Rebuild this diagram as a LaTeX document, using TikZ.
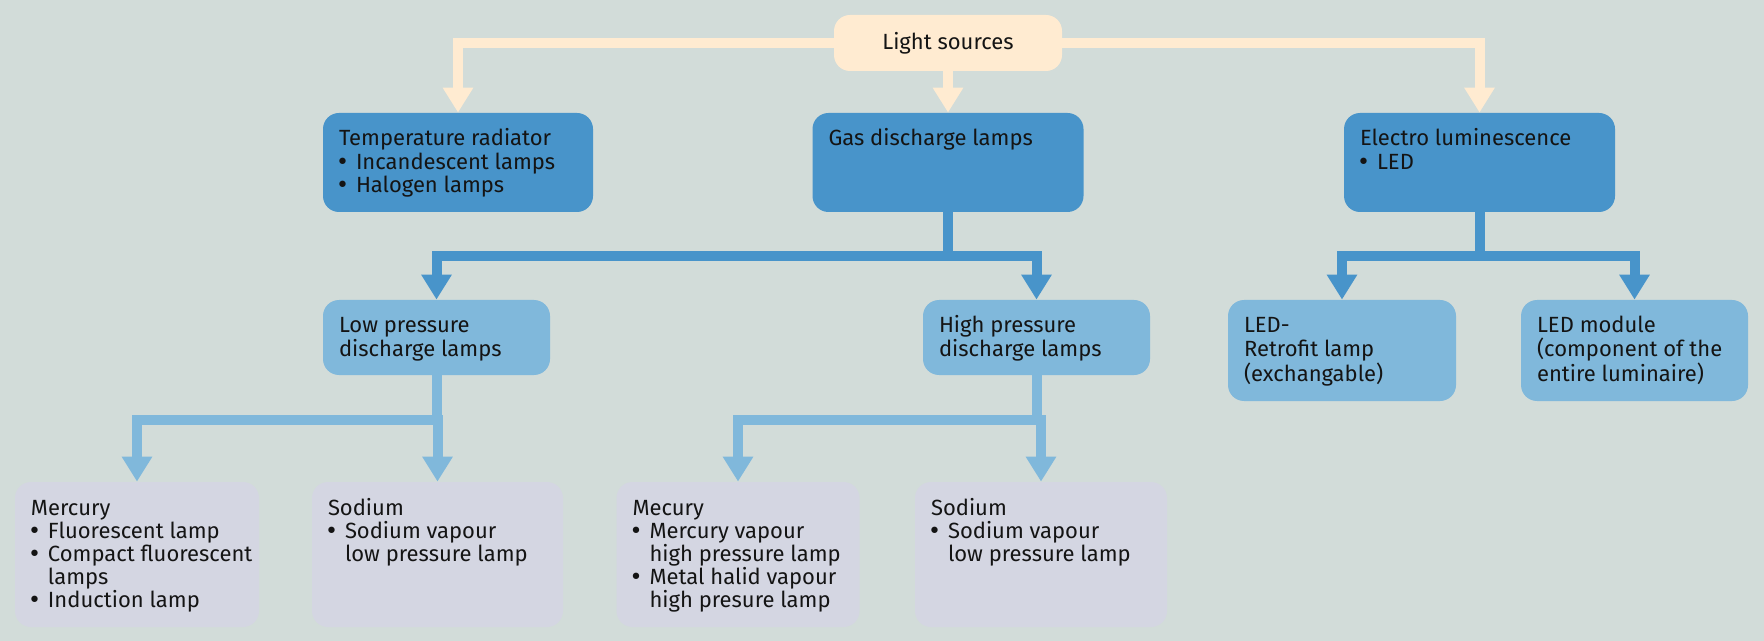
\documentclass[tikz,border=0pt]{standalone}
\usepackage{fontspec}
\setmainfont{Fira Sans}
\newfontfamily\bulletfont{DejaVu Sans}
\usetikzlibrary{arrows.meta}

\definecolor{bgcol}{HTML}{D2DCD9}
\definecolor{creamcol}{HTML}{FFEBD1}
\definecolor{darkcol}{HTML}{4894CA}
\definecolor{lightcol}{HTML}{80B8DB}
\definecolor{greycol}{HTML}{D4D6E2}
\definecolor{textcol}{HTML}{141414}

\newlength{\unitpx}
\setlength{\unitpx}{0.5pt}
\newcommand{\itm}{\makebox[17\unitpx][l]{\kern-1.5pt{\bulletfont\char"2022}}}
\newcommand{\ind}{\hspace*{17\unitpx}}
\newcommand{\boxtxt}[3]{%
  \begin{minipage}[t][#2\unitpx][t]{#1\unitpx}
    \raggedright\leftskip=16\unitpx \rightskip=-10pt plus 1fil
    \rule{0pt}{33\unitpx}#3
  \end{minipage}}

\tikzset{
  every node/.style={font=\fontsize{11}{11.6}\selectfont, text=textcol},
  srcbox/.style={fill=creamcol, rounded corners=8pt, inner sep=0pt,
    minimum width=228\unitpx, minimum height=56\unitpx},
  darkbox/.style={fill=darkcol, rounded corners=8pt, inner sep=0pt},
  lightbox/.style={fill=lightcol, rounded corners=8pt, inner sep=0pt},
  greybox/.style={fill=greycol, rounded corners=8pt, inner sep=0pt},
  tip/.style={-{Triangle[width=14.5pt,length=12.5pt]}},
  creamline/.style={draw=creamcol, line width=5pt, tip},
  darkline/.style={draw=darkcol, line width=5pt, tip},
  lightline/.style={draw=lightcol, line width=5pt, tip}
}

\begin{document}
\begin{tikzpicture}[x=0.5pt,y=-0.5pt]

    \fill[bgcol] (0,0) rectangle (1764,641);
    \useasboundingbox (0,0) rectangle (1764,641);

    % top
    \node[srcbox] (src) at (948,43) {Light sources};

    % first level
    \node[darkbox] (temp) at (458,162.5)
        {\boxtxt{270}{99}{Temperature radiator\\\itm Incandescent lamps\\\itm Halogen lamps}};
    \node[darkbox] (gas) at (948,162.5)
        {\boxtxt{271}{99}{Gas discharge lamps}};
    \node[darkbox] (elec) at (1479.5,162.5)
        {\boxtxt{271}{99}{Electro luminescence\\\itm LED}};

    % second level
    \node[lightbox] (low) at (436.5,337.5)
        {\boxtxt{227}{75}{Low pressure\\discharge lamps}};
    \node[lightbox] (high) at (1036.5,337.5)
        {\boxtxt{227}{75}{High pressure\\discharge lamps}};
    \node[lightbox] (retro) at (1342,350.5)
        {\boxtxt{228}{101}{LED-\\Retrofit lamp\\(exchangable)}};
    \node[lightbox] (module) at (1634.5,350.5)
        {\boxtxt{227}{101}{LED module\\(component of the\\entire luminaire)}};

    % third level
    \node[greybox] (merc) at (137,554.5)
        {\boxtxt{244}{145}{Mercury\\\itm Fluorescent lamp\\\itm Compact fluorescent\\\ind lamps\\\itm Induction lamp}};
    \node[greybox] (sod) at (437.5,554.5)
        {\boxtxt{251}{145}{Sodium\\\itm Sodium vapour\\\ind low pressure lamp}};
    \node[greybox] (hmerc) at (738,554.5)
        {\boxtxt{243}{145}{Mecury\\\itm Mercury vapour\\\ind high pressure lamp\\\itm Metal halid vapour\\\ind high presure lamp}};
    \node[greybox] (hsod) at (1041,554.5)
        {\boxtxt{252}{145}{Sodium\\\itm Sodium vapour\\\ind low pressure lamp}};

    % connectors
    \draw[creamline] (src.west) -| (temp.north);
    \draw[creamline] (src.east) -| (elec.north);
    \draw[creamline] (src.south) -- (gas.north);

    \draw[darkline] (gas.south) -- ++(0,44) -| (low.north);
    \draw[darkline] (gas.south) -- ++(0,44) -| (high.north);
    \draw[darkline] (elec.south) -- ++(0,44) -| (retro.north);
    \draw[darkline] (elec.south) -- ++(0,44) -| (module.north);

    \draw[lightline] (low.south) -- ++(0,45) -| (merc.north);
    \draw[lightline] (low.south) -- ++(0,45) -| (sod.north);
    \draw[lightline] (high.south) -- ++(0,45) -| (hmerc.north);
    \draw[lightline] (high.south) -- ++(0,45) -| (hsod.north);

\end{tikzpicture}
\end{document}
